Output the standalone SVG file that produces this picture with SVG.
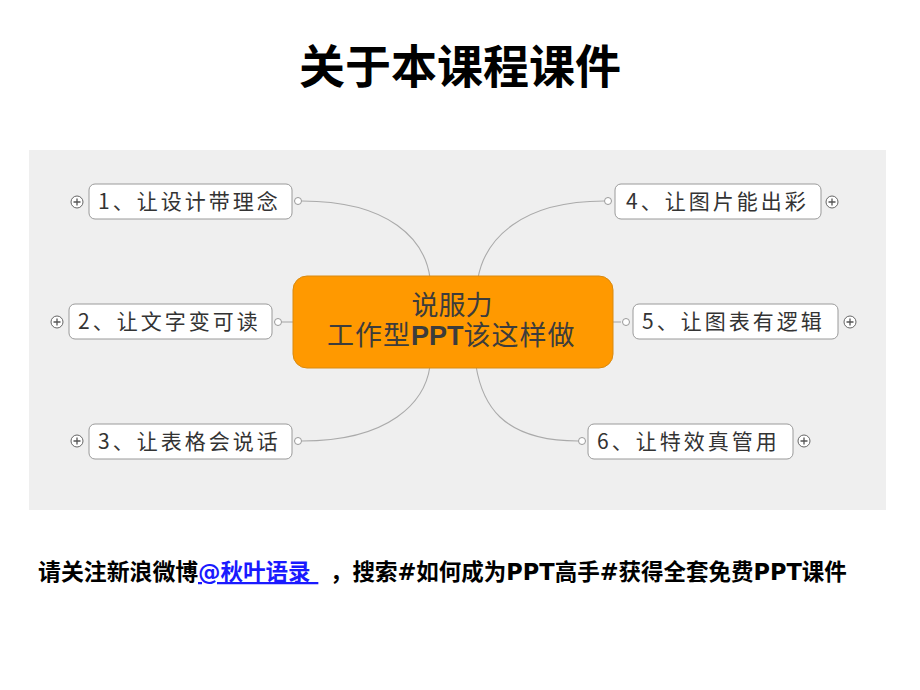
<svg xmlns="http://www.w3.org/2000/svg" width="920" height="690" viewBox="0 0 920 690">
<style>
.node rect{fill:#fff;stroke:#9a9a9a;stroke-width:1}
.nt{font-family:"Noto Sans CJK SC",sans-serif;font-size:21px;fill:#333;letter-spacing:3px}
.dot{fill:#fff;stroke:#999;stroke-width:1}
.plus circle{fill:#fff;stroke:#666;stroke-width:1}
.plus path{stroke:#555;stroke-width:1.3}
.conn path{fill:none;stroke:#aaa;stroke-width:1.1}
.ft{font-family:"DejaVu Sans","Noto Sans CJK SC",sans-serif;font-weight:bold;font-size:22.5px;fill:#000}
</style>
<rect width="920" height="690" fill="#fff"/>
<text x="460" y="83" text-anchor="middle" font-family="'Noto Sans CJK SC',sans-serif" font-weight="bold" font-size="46" fill="#000">关于本课程课件</text>
<rect x="29" y="150" width="857" height="360" fill="#efefef"/>
<g class="conn">
<path d="M302,201 C390,201 425,240 430,278"/>
<path d="M604,201 C520,201 485,240 478,278"/>
<path d="M302,441 C390,441 425,402 430,366"/>
<path d="M578,441 C500,441 482,402 476,366"/>
<path d="M282,322 L295,322"/>
<path d="M612,322 L621,322"/>
</g>
<g id="center">
<rect x="293" y="276" width="320" height="92" rx="14" fill="#ff9900" stroke="#d98a10" stroke-width="1"/>
<text x="452" y="315" text-anchor="middle" font-family="'Noto Sans CJK SC',sans-serif" font-size="27" fill="#3c3c3c">说服力</text>
<text x="327" y="345" font-family="'Noto Sans CJK SC',sans-serif" font-size="27" fill="#3c3c3c" letter-spacing="1">工作型<tspan font-family="'Liberation Sans',sans-serif" font-weight="bold" letter-spacing="0">PPT</tspan>该这样做</text>
</g>
<g id="n1" class="node">
<rect x="89" y="184" width="203" height="35" rx="6"/>
<text class="nt" x="98" y="209">1、让设计带理念</text>
<g class="plus"><circle cx="77" cy="202" r="6"/><path d="M73.5,202h7M77,198.5v7"/></g>
<circle class="dot" cx="298" cy="201" r="3.5"/>
</g>
<g id="n2" class="node">
<rect x="69" y="304" width="203" height="35" rx="6"/>
<text class="nt" x="78" y="329">2、让文字变可读</text>
<g class="plus"><circle cx="57" cy="322" r="6"/><path d="M53.5,322h7M57,318.5v7"/></g>
<circle class="dot" cx="278" cy="322" r="3.5"/>
</g>
<g id="n3" class="node">
<rect x="89" y="424" width="203" height="35" rx="6"/>
<text class="nt" x="98" y="449">3、让表格会说话</text>
<g class="plus"><circle cx="77" cy="441" r="6"/><path d="M73.5,441h7M77,437.5v7"/></g>
<circle class="dot" cx="298" cy="441" r="3.5"/>
</g>
<g id="n4" class="node">
<rect x="615" y="184" width="206" height="35" rx="6"/>
<text class="nt" x="626" y="209">4、让图片能出彩</text>
<g class="plus"><circle cx="832" cy="202" r="6"/><path d="M828.5,202h7M832,198.5v7"/></g>
<circle class="dot" cx="608" cy="201" r="3.5"/>
</g>
<g id="n5" class="node">
<rect x="633" y="304" width="205" height="35" rx="6"/>
<text class="nt" x="642" y="329">5、让图表有逻辑</text>
<g class="plus"><circle cx="850" cy="322" r="6"/><path d="M846.5,322h7M850,318.5v7"/></g>
<circle class="dot" cx="626" cy="322" r="3.5"/>
</g>
<g id="n6" class="node">
<rect x="588" y="424" width="205" height="35" rx="6"/>
<text class="nt" x="597" y="449">6、让特效真管用</text>
<g class="plus"><circle cx="804" cy="441" r="6"/><path d="M800.5,441h7M804,437.5v7"/></g>
<circle class="dot" cx="582" cy="441" r="3.5"/>
</g>
<text class="ft" y="580"><tspan x="38" font-size="22.9">请关注新浪微博</tspan><tspan x="198" fill="#1a1aff" text-decoration="underline">@秋叶语录 </tspan><tspan x="330">，搜索#如何成为PPT高手#获得全套免费PPT课件</tspan></text>
</svg>
